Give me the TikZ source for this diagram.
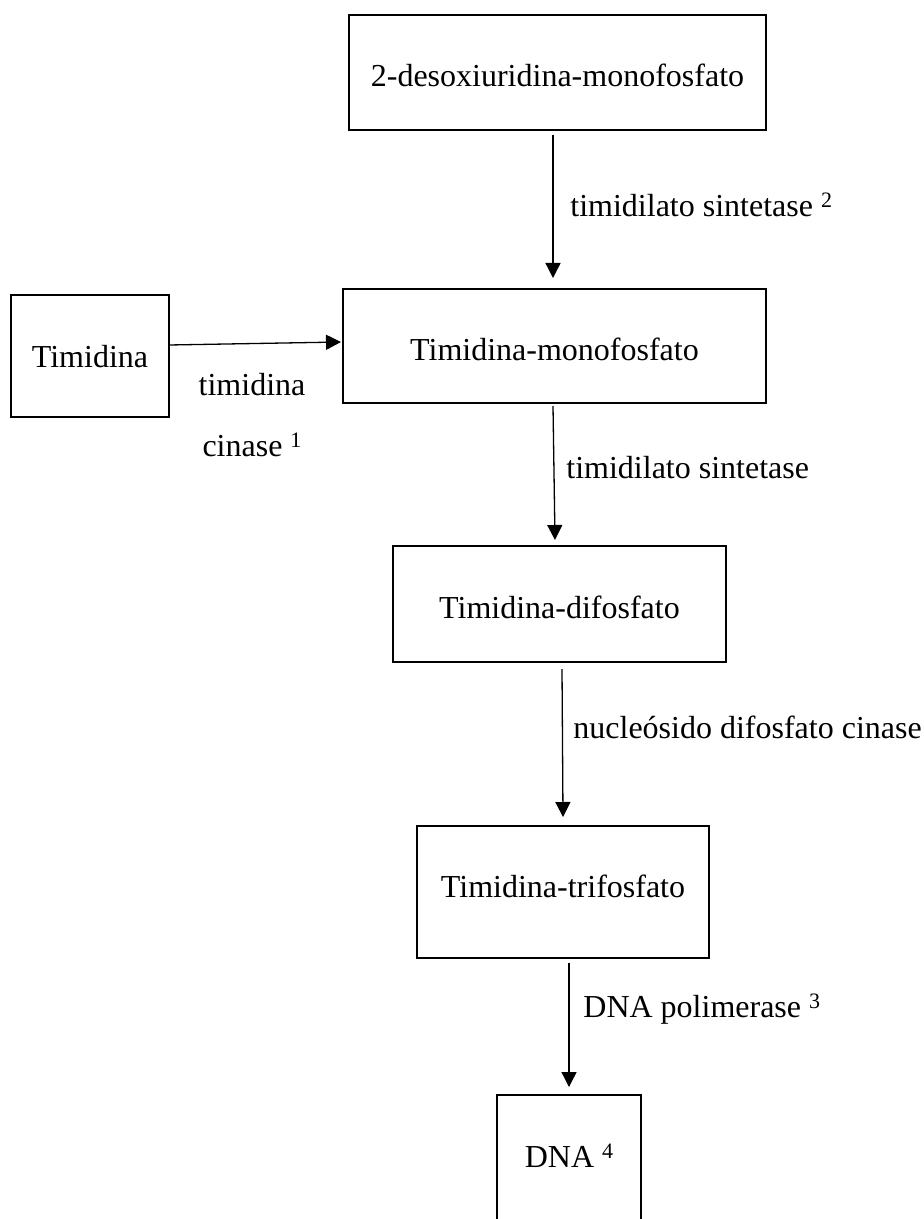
\documentclass[tikz,border=0pt]{standalone}
\usepackage{fontspec}
\setmainfont{Liberation Serif}
\usetikzlibrary{arrows.meta}
\newcommand{\supn}[1]{{\fontsize{11}{12}\selectfont\raisebox{4.5pt}{#1}}}
\tikzset{
  box/.style={draw, line width=1pt, rectangle, inner sep=0pt, text height=14pt, text depth=0pt, font=\fontsize{16}{19}\selectfont},
  lbl/.style={inner sep=0pt, anchor=base west, font=\fontsize{16}{19}\selectfont},
  arr/.style={line width=0.65pt, -{Triangle[width=7.5pt,length=7.5pt]}}
}
\begin{document}
\begin{tikzpicture}[x=0.5pt,y=-0.5pt]
\clip (0,0) rectangle (924,1219);
\fill[white] (0,0) rectangle (924,1219);
% boxes
\node[box, minimum width=208.5pt, minimum height=57.5pt] (b1) at (557.5,72.5) {2-desoxiuridina-monofosfato};
\node[box, minimum width=211.5pt, minimum height=57pt] (b2) at (554.5,346) {Timidina-monofosfato};
\node[box, minimum width=79pt, minimum height=61pt, text height=11pt] (bt) at (90,356) {Timidina};
\node[box, minimum width=166.5pt, minimum height=58pt] (b3) at (559.5,604) {Timidina-difosfato};
\node[box, minimum width=146pt, minimum height=66pt, text height=5pt] (b4) at (563,892) {Timidina-trifosfato};
\node[box, minimum width=72pt, minimum height=70pt, text height=2pt] (b5) at (569,1165) {DNA \supn{4}};
% connector end points
\coordinate (a1s) at (553,135);  \coordinate (a1e) at (553,278);
\coordinate (ahs) at (169,345);  \coordinate (ahe) at (341,342);
\coordinate (a2s) at (553,406);  \coordinate (a2e) at (555,540);
\coordinate (a3s) at (562,669);  \coordinate (a3e) at (563,817);
\coordinate (a4s) at (569,963);  \coordinate (a4e) at (569,1087);
\draw[arr] (a1s) -- (a1e);
\draw[arr] (ahs) -- (ahe);
\draw[arr] (a2s) -- (a2e);
\draw[arr] (a3s) -- (a3e);
\draw[arr] (a4s) -- (a4e);
% labels
\node[lbl] (l1) at (570,217) {timidilato sintetase \supn{2}};
\node[lbl, anchor=base] (l2a) at (252,395) {timidina};
\node[lbl, anchor=base] (l2b) at (252,456) {cinase \supn{1}};
\node[lbl] (l3) at (566,478) {timidilato sintetase};
\node[lbl] (l4) at (573,738) {nucleósido difosfato cinase};
\node[lbl] (l5) at (583,1017) {DNA polimerase \supn{3}};
\end{tikzpicture}
\end{document}
